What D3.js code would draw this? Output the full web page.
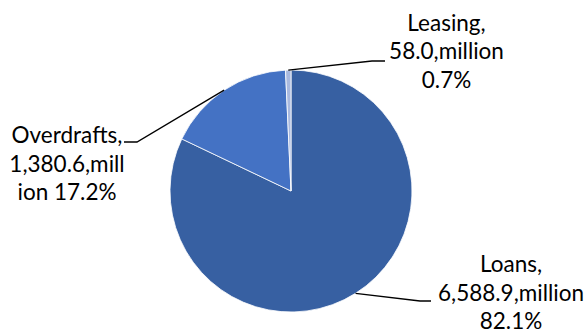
<!DOCTYPE html>
<html>
<head>
<meta charset="utf-8">
<script src="https://cdn.jsdelivr.net/npm/d3@7"></script>
<style>
  html, body { margin: 0; padding: 0; background: #ffffff; }
  svg { display: block; }
  .lbl { font-family: Lato, "Open Sans", sans-serif; fill: #000; }
</style>
</head>
<body>
<svg id="chart" width="585" height="333"></svg>
<script>
// Loan portfolio breakdown (millions)
const categories = ["Loans", "Overdrafts", "Leasing"];
const values = [6588.9, 1380.6, 58.0];
const colors = ["#3760a2", "#4472c4", "#a9b9df"];
// Characters per line when a label body has to wrap (null = natural lines)
const wrapChars = [null, 12, null];

const W = 585, H = 333;
const cx = 291, cy = 191, R = 121;
const fontSize = 22.5, lineH = 28.5;

// Label block anchors: centre x, first baseline, and leader path end (elbow + tip)
const labelLayout = [
  { x: 511, y: 272, elbow: [420, 301], tip: [431, 301] },
  { x: 67,  y: 143, elbow: [137, 142], tip: [124, 142] },
  { x: 446.5, y: 30.5, elbow: [372, 61], tip: [385, 61] }
];

const svg = d3.select("#chart");
const total = d3.sum(values);
const data = categories.map((c, i) => ({ cat: c, value: values[i], i }));

const pie = d3.pie().value(d => d.value).sort(null);
const arcs = pie(data);
const arc = d3.arc().innerRadius(0).outerRadius(R);

const g = svg.append("g").attr("transform", `translate(${cx},${cy})`);
g.selectAll("path.slice")
  .data(arcs)
  .join("path")
  .attr("class", "slice")
  .attr("d", arc)
  .attr("fill", d => colors[d.data.i])
  .attr("stroke", "#ffffff")
  .attr("stroke-width", 0.8)
  .attr("stroke-linejoin", "round");

const fmtVal = d3.format(",.1f");
const fmtPct = d3.format(".1f");

function labelLines(d) {
  const head = d.data.cat + ",";
  const body = fmtVal(d.data.value) + ",million " + fmtPct(d.data.value / total * 100) + "%";
  const wc = wrapChars[d.data.i];
  if (wc == null) {
    const k = body.indexOf(" ");
    return [head, body.slice(0, k), body.slice(k + 1)];
  }
  const lines = [head];
  for (let s = 0; s < body.length; s += wc) lines.push(body.slice(s, s + wc).trim());
  return lines;
}

// Leader lines from the slice's mid-angle on the rim to the label
arcs.forEach(d => {
  const a = (d.startAngle + d.endAngle) / 2;
  const p0 = [cx + R * Math.sin(a), cy - R * Math.cos(a)];
  const L = labelLayout[d.data.i];
  svg.append("path")
    .attr("d", d3.line()([p0, L.elbow, L.tip]))
    .attr("fill", "none")
    .attr("stroke", "#000")
    .attr("stroke-width", 1.3);
});

// Data labels
arcs.forEach(d => {
  const L = labelLayout[d.data.i];
  const t = svg.append("text")
    .attr("class", "lbl")
    .attr("text-anchor", "middle")
    .attr("font-size", fontSize);
  labelLines(d).forEach((line, k) => {
    t.append("tspan").attr("x", L.x).attr("y", L.y + k * lineH).text(line);
  });
});
</script>
</body>
</html>
